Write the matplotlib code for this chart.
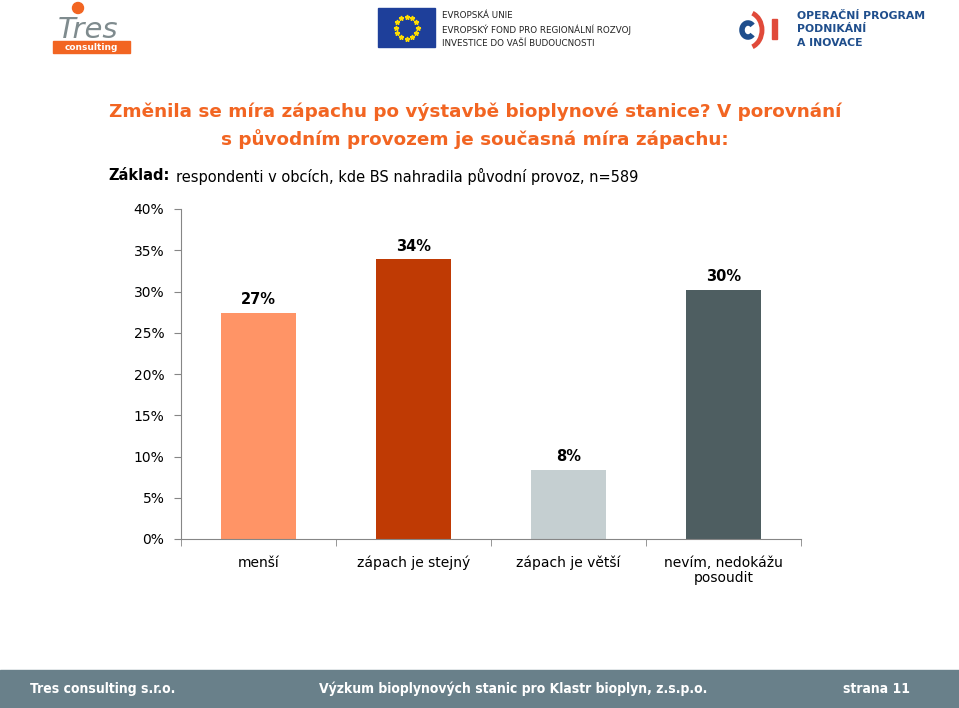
import matplotlib.pyplot as plt
import matplotlib.patches as patches
import numpy as np

# Données
categories = ["menší", "zápach je stejný", "zápach je větší", "nevím, nedokážu\nposoudit"]
values = [27.4, 33.9, 8.4, 30.2]
labels = ["27%", "34%", "8%", "30%"]
colors = ["#FF9466", "#BF3A04", "#C5CFD1", "#4E5E61"]
yticks = [0, 5, 10, 15, 20, 25, 30, 35, 40]

W, H = 959, 708
fig = plt.figure(figsize=(W / 100, H / 100), dpi=100)
plt.rcParams['font.family'] = ['DejaVu Sans']

# Calque de décor en pixels
deco = fig.add_axes([0, 0, 1, 1])
deco.set_xlim(0, W)
deco.set_ylim(H, 0)
deco.axis('off')

# Logo Tres
deco.add_patch(patches.Circle((78, 8), 5.5, color="#F26522"))
deco.text(58, 38, "Tres", fontsize=21, color="#7F8B8E", ha='left', va='baseline', style='italic')
deco.add_patch(patches.Rectangle((53, 41), 77, 12, color="#F26522"))
deco.text(91, 47.5, "consulting", fontsize=6.5, color="white", weight='bold', ha='center', va='center')

# Logo UE
deco.add_patch(patches.Rectangle((378, 8), 57, 39, color="#1E3F9A"))
for a in np.linspace(0, 2 * np.pi, 12, endpoint=False):
    deco.plot(406.5 + 11 * np.cos(a), 27.5 + 11 * np.sin(a), marker='*', color="#FFDD00", ms=3.5)
for i, t in enumerate(["EVROPSKÁ UNIE", "EVROPSKÝ FOND PRO REGIONÁLNÍ ROZVOJ", "INVESTICE DO VAŠÍ BUDOUCNOSTI"]):
    deco.text(442, 16 + i * 14, t, fontsize=6.3, color="#222222", ha='left', va='center')

# Logo OP PIK
deco.add_patch(patches.Arc((748, 30), 12, 14, theta1=45, theta2=315, color="#1F4E8C", lw=4))
deco.add_patch(patches.Arc((747, 30), 30, 36, theta1=-72, theta2=72, color="#E04A3A", lw=3.5))
deco.add_patch(patches.Rectangle((772, 19), 5, 20, color="#E04A3A"))
for i, t in enumerate(["OPERAČNÍ PROGRAM", "PODNIKÁNÍ", "A INOVACE"]):
    deco.text(797, 16 + i * 13.5, t, fontsize=7.8, color="#1F4E8C", weight='bold', ha='left', va='center')

# Titre
deco.text(475, 112, "Změnila se míra zápachu po výstavbě bioplynové stanice? V porovnání",
          fontsize=13.2, color="#F26522", weight='bold', ha='center', va='center')
deco.text(475, 139, "s původním provozem je současná míra zápachu:",
          fontsize=13.2, color="#F26522", weight='bold', ha='center', va='center')
deco.text(108, 176, "Základ:", fontsize=10.5, weight='bold', color="black", ha='left', va='center')
deco.text(176, 176, "respondenti v obcích, kde BS nahradila původní provoz, n=589",
          fontsize=10.5, color="black", ha='left', va='center')

# Pied de page
deco.add_patch(patches.Rectangle((0, 670), W, 38, color="#69808A"))
deco.text(30, 689, "Tres consulting s.r.o.", fontsize=10, color="white", weight='bold',
          ha='left', va='center', fontstretch='condensed')
deco.text(513, 689, "Výzkum bioplynových stanic pro Klastr bioplyn, z.s.p.o.", fontsize=10,
          color="white", weight='bold', ha='center', va='center', fontstretch='condensed')
deco.text(910, 689, "strana 11", fontsize=10, color="white", weight='bold', ha='right',
          va='center', fontstretch='condensed')

# Graphique
ax = fig.add_axes([181 / W, 1 - 539 / H, 620 / W, 330 / H])
x = np.arange(len(categories))
ax.bar(x, values, width=0.49, color=colors)
for xi, v, lab in zip(x, values, labels):
    ax.text(xi, v + 0.7, lab, ha='center', va='bottom', fontsize=10.5, weight='bold')

ax.set_xlim(-0.5, len(categories) - 0.5)
ax.set_ylim(0, 40)
ax.set_yticks(yticks)
ax.set_yticklabels([f"{t}%" for t in yticks], fontsize=10)
ax.set_xticks(x)
ax.set_xticklabels(categories, fontsize=10, linespacing=1.1)
ax.set_xticks(np.arange(len(categories) + 1) - 0.5, minor=True)
ax.tick_params(axis='x', which='major', length=0, pad=12)
ax.tick_params(axis='x', which='minor', length=5, color="#868686")
ax.tick_params(axis='y', length=5, color="#868686", pad=7)
for s in ['top', 'right']:
    ax.spines[s].set_visible(False)
for s in ['left', 'bottom']:
    ax.spines[s].set_color("#868686")

fig.savefig("out.png", dpi=100)
